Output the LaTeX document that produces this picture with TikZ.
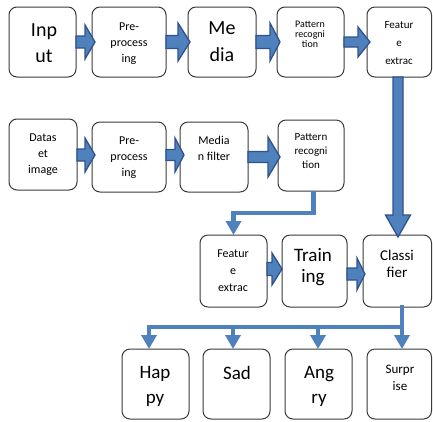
\documentclass[tikz,border=0pt]{standalone}
\usepackage{fontspec}
\setmainfont{Carlito}
\usetikzlibrary{arrows.meta,fit}
\definecolor{blk}{HTML}{4F81BD}
\definecolor{blkedge}{HTML}{2F528F}
\definecolor{boxedge}{HTML}{3A3A3A}
\tikzset{
  box/.style={draw=boxedge, line width=1pt, rounded corners=8pt, fill=white, inner sep=0pt},
  txt/.style={align=center, inner sep=0pt, text=black},
  blockarr/.style={fill=blk, draw=blkedge, line width=1.3pt, line join=miter},
  conn/.style={draw=blk, line width=4.5pt, line join=miter, -{Triangle[width=15pt,length=14pt]}},
  plain/.style={draw=blk, line width=4.5pt, line join=miter, line cap=rect}
}
% horizontal block arrow: x0, xb, x1, yc, shaft half, head half
\newcommand{\harrow}[6]{\draw[blockarr] (#1,#4-#5) -- (#2,#4-#5) -- (#2,#4-#6) -- (#3,#4) -- (#2,#4+#6) -- (#2,#4+#5) -- (#1,#4+#5) -- cycle;}
\begin{document}
\begin{tikzpicture}[x=1pt,y=-1pt]
\useasboundingbox (0,0) rectangle (433,421);
% row 1
\node[box, fit={(9,7) (76,77)}] (in) {};
\node[box, fit={(92,7) (166,77)}] (pre1) {};
\node[box, fit={(188,7) (256,77)}] (med1) {};
\node[box, fit={(277,7) (344,77)}] (pat1) {};
\node[box, fit={(367,7) (431.5,77)}] (fea1) {};
% row 2
\node[box, fit={(9,119) (77,190)}] (dat) {};
\node[box, fit={(92,122) (166,192)}] (pre2) {};
\node[box, fit={(180,122) (248,192)}] (med2) {};
\node[box, fit={(278,120) (344,191)}] (pat2) {};
% row 3
\node[box, fit={(200,235) (267,307)}] (fea3) {};
\node[box, fit={(282,235) (347,307)}] (tra) {};
\node[box, fit={(363,235) (431.5,307)}] (cla) {};
% row 4
\node[box, fit={(122,349) (189,419)}] (hap) {};
\node[box, fit={(203,349) (270,419)}] (sad) {};
\node[box, fit={(285,349) (352,419)}] (ang) {};
\node[box, fit={(367,349) (431.5,419)}] (sur) {};

% texts
\node[txt, font=\fontsize{20}{26}\selectfont] (tin) at (44,43) {Inp\\ut};
\node[txt, font=\fontsize{12}{16}\selectfont] (tpre1) at (129,44) {Pre-\\process\\ing};
\node[txt, font=\fontsize{20}{27}\selectfont] (tmed1) at (222,42) {Me\\dia};
\node[txt, font=\fontsize{10}{10}\selectfont] (tpat1) at (310,34) {Pattern\\recogni\\tion};
\node[txt, font=\fontsize{11}{18}\selectfont] (tfea1) at (399,43) {Featur\\e\\extrac};
\node[txt, font=\fontsize{12}{16}\selectfont] (tdat) at (43,155) {Datas\\et\\image};
\node[txt, font=\fontsize{12}{16}\selectfont] (tpre2) at (129,158) {Pre-\\process\\ing};
\node[txt, font=\fontsize{12}{16}\selectfont] (tmed2) at (214,148) {Media\\n filter};
\node[txt, font=\fontsize{11}{14}\selectfont] (tpat2) at (311,151) {Pattern\\recogni\\tion};
\node[txt, font=\fontsize{12}{17}\selectfont] (tfea3) at (233,271) {Featur\\e\\extrac};
\node[txt, font=\fontsize{19}{21}\selectfont] (ttra) at (313,267) {Train\\ing};
\node[txt, font=\fontsize{15}{17}\selectfont] (tcla) at (397,264) {Classi\\fier};
\node[txt, font=\fontsize{19}{25}\selectfont] (thap) at (155,386) {Hap\\py};
\node[txt, font=\fontsize{19}{25}\selectfont] (tsad) at (237,373) {Sad};
\node[txt, font=\fontsize{19}{25}\selectfont] (tang) at (319,386) {Ang\\ry};
\node[txt, font=\fontsize{13}{17}\selectfont] (tsur) at (400,378) {Surpr\\ise};

% block arrows row 1
\harrow{76}{85}{95}{42}{6}{17}
\harrow{166}{178}{190}{42}{6.5}{19}
\harrow{256}{270}{280}{42}{6.5}{19}
\harrow{344}{358}{370}{42}{5}{15}
% row 2
\harrow{77}{85}{95}{155}{6}{17}
\harrow{166}{175}{184}{155}{5.5}{17}
\harrow{248}{268}{280}{157}{5.5}{20}
% row 3
\harrow{267}{272}{282}{269}{6.5}{16}
\harrow{347}{357}{365}{274}{6}{16}
% vertical block arrow from feature (row 1) to classifier
\draw[blockarr] (393,77) -- (403,77) -- (403,215) -- (410.5,215) -- (398,237) -- (385.5,215) -- (393,215) -- cycle;

% thin connectors
\coordinate (p2b) at (313.5,191);
\coordinate (p2t) at (313.5,213);
\coordinate (f3t) at (233.5,235);
\draw[conn] (p2b) |- (p2t) -| (f3t);

\coordinate (clb) at (402,307);
\coordinate (bus) at (402,327);
\coordinate (busL) at (149,327);
\draw[plain] (clb) -- (bus);
\draw[plain] (busL) -- (bus);
\draw[conn] (busL) -- (149,349);
\draw[conn] (233,327) -- (233,349);
\draw[conn] (318,327) -- (318,349);
\draw[conn] (bus) -- (402,349);
\end{tikzpicture}
\end{document}
